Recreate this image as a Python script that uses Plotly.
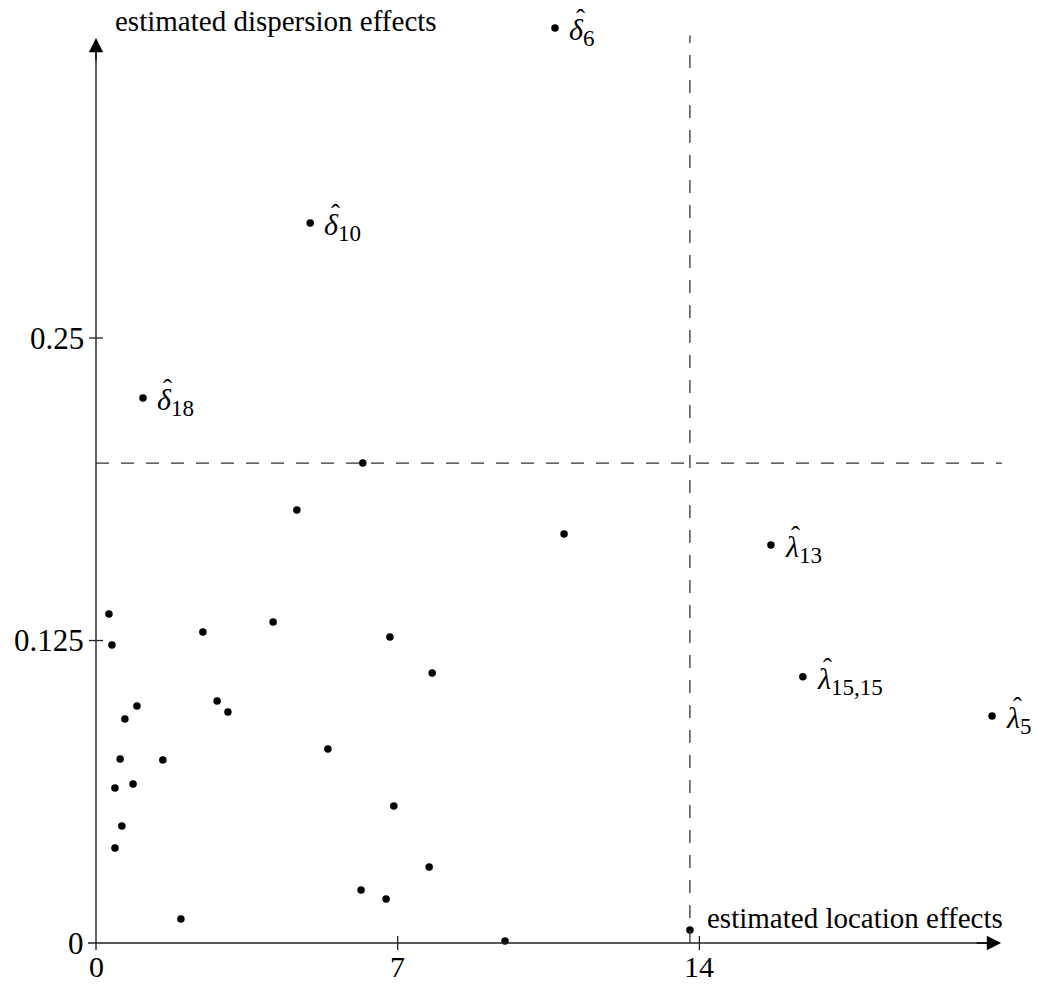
import plotly.graph_objects as go

# ---- data ----
loc_effects = [10.65, 4.97, 1.09, 6.19, 4.66, 10.86, 15.66, 0.30, 0.37, 2.48,
               4.11, 6.82, 7.80, 16.40, 20.79, 0.95, 0.67, 2.81, 3.06, 0.56,
               1.55, 5.38, 0.44, 0.86, 6.91, 0.60, 0.44, 7.73, 6.15, 6.73,
               1.97, 9.49, 13.78]
disp_effects = [0.3781, 0.2975, 0.2252, 0.1983, 0.1789, 0.1690, 0.1645, 0.1360, 0.1231, 0.1285,
                0.1326, 0.1264, 0.1116, 0.1100, 0.0938, 0.0979, 0.0926, 0.1000, 0.0955, 0.0760,
                0.0756, 0.0802, 0.0640, 0.0657, 0.0566, 0.0483, 0.0393, 0.0314, 0.0219, 0.0182,
                0.0099, 0.0008, 0.0054]
point_labels = [("δ", "6"), ("δ", "10"), ("δ", "18"), None, None, None, ("λ", "13"),
                None, None, None, None, None, None, ("λ", "15,15"), ("λ", "5")] + [None] * 18

x_tick_vals = [0, 7, 14]
x_tick_text = ["0", "7", "14"]
y_tick_vals = [0, 0.125, 0.25]
y_tick_text = ["0", "0.125", "0.25"]

loc_threshold = 13.78
disp_threshold = 0.1983
x_axis_end = 21.0
y_axis_end = 0.374

x_title = "estimated location effects"
y_title = "estimated dispersion effects"

FONT = "Liberation Serif"

# pixel scale helpers (for ranges only)
PX_X0, PX_PER_X = 96, 43.1
PX_Y0, PX_PER_Y = 943, 2420
W, H = 1038, 985

fig = go.Figure()

fig.add_trace(go.Scatter(
    x=loc_effects, y=disp_effects, mode="markers",
    marker=dict(size=7.5, color="black"), cliponaxis=False, hoverinfo="skip",
    showlegend=False))

shapes = []
# axes lines
shapes.append(dict(type="line", xref="x", yref="y", x0=-8 / PX_PER_X, x1=x_axis_end - 0.15,
                   y0=0, y1=0, line=dict(color="#222", width=1.4)))
shapes.append(dict(type="line", xref="x", yref="y", x0=0, x1=0,
                   y0=-7 / PX_PER_Y, y1=y_axis_end - 0.004, line=dict(color="#222", width=1.4)))
# dashed threshold lines
shapes.append(dict(type="line", xref="x", yref="y", x0=loc_threshold, x1=loc_threshold,
                   y0=0, y1=0.375, line=dict(color="#333", width=1.3, dash="13px,12px")))
shapes.append(dict(type="line", xref="x", yref="y", x0=0, x1=21.02,
                   y0=disp_threshold, y1=disp_threshold,
                   line=dict(color="#333", width=1.3, dash="13px,12px")))
# ticks crossing the axes
for v in x_tick_vals[1:]:
    shapes.append(dict(type="line", xref="x", yref="y", x0=v, x1=v,
                       y0=-7 / PX_PER_Y, y1=7 / PX_PER_Y, line=dict(color="#222", width=1.3)))
for v in y_tick_vals[1:]:
    shapes.append(dict(type="line", xref="x", yref="y", x0=-7 / PX_PER_X, x1=7 / PX_PER_X,
                       y0=v, y1=v, line=dict(color="#222", width=1.3)))

annotations = []
# arrow heads
annotations.append(dict(x=x_axis_end, y=0, ax=x_axis_end - 0.6, ay=0, xref="x", yref="y",
                        axref="x", ayref="y", text="", showarrow=True, arrowhead=2,
                        arrowsize=2.2, arrowwidth=1.3, arrowcolor="black"))
annotations.append(dict(x=0, y=y_axis_end, ax=0, ay=y_axis_end - 0.01, xref="x", yref="y",
                        axref="x", ayref="y", text="", showarrow=True, arrowhead=2,
                        arrowsize=2.2, arrowwidth=1.3, arrowcolor="black"))
# tick labels
for v, t in zip(x_tick_vals, x_tick_text):
    annotations.append(dict(x=v, y=0, xref="x", yref="y", text=t, showarrow=False,
                            xanchor="center", yanchor="middle", yshift=-23,
                            font=dict(family=FONT, size=30, color="black")))
for v, t in zip(y_tick_vals, y_tick_text):
    annotations.append(dict(x=0, y=v, xref="x", yref="y", text=t, showarrow=False,
                            xanchor="right", yanchor="middle", xshift=-10,
                            font=dict(family=FONT, size=31, color="black")))
# axis titles
annotations.append(dict(x=0, y=y_axis_end, xref="x", yref="y", text=y_title, showarrow=False,
                        xanchor="left", yanchor="middle", xshift=17, yshift=17,
                        font=dict(family=FONT, size=29, color="black")))
annotations.append(dict(x=loc_threshold, y=0, xref="x", yref="y", text=x_title, showarrow=False,
                        xanchor="left", yanchor="middle", xshift=15, yshift=25,
                        font=dict(family=FONT, size=29, color="black")))
# point labels (symbol with subscript, hat drawn above the symbol)
for xv, yv, lab in zip(loc_effects, disp_effects, point_labels):
    if lab is None:
        continue
    sym, sub = lab
    annotations.append(dict(x=xv, y=yv, xref="x", yref="y",
                            text=f"<i>{sym}</i><sub><span style='font-size:23px'>{sub}</span></sub>",
                            showarrow=False,
                            xanchor="left", yanchor="middle", xshift=12, yshift=-4,
                            font=dict(family=FONT, size=30, color="black")))
    annotations.append(dict(x=xv, y=yv, xref="x", yref="y", text="ˆ", showarrow=False,
                            xanchor="center", yanchor="middle", xshift=25, yshift=9,
                            font=dict(family=FONT, size=27, color="black")))

fig.update_layout(
    width=W, height=H, margin=dict(l=0, r=0, t=0, b=0),
    paper_bgcolor="white", plot_bgcolor="white",
    xaxis=dict(range=[(0 - PX_X0) / PX_PER_X, (W - PX_X0) / PX_PER_X], visible=False,
               fixedrange=True),
    yaxis=dict(range=[(PX_Y0 - H) / PX_PER_Y, PX_Y0 / PX_PER_Y], visible=False,
               fixedrange=True),
    shapes=shapes, annotations=annotations, showlegend=False,
)

fig.write_html("out.html")
